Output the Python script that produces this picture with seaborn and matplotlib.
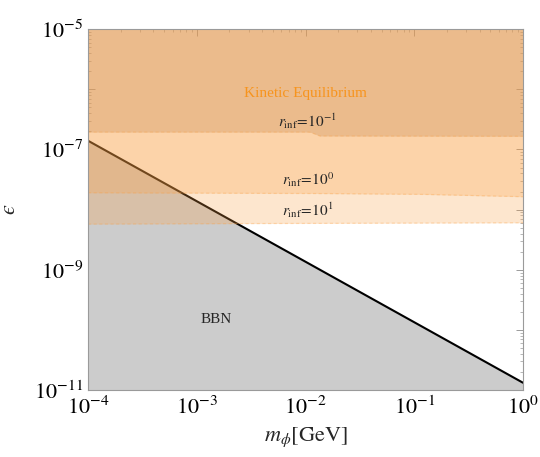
import numpy as np
import pandas as pd
import matplotlib
matplotlib.use("Agg")
import matplotlib.pyplot as plt
import matplotlib.ticker as mticker
import seaborn as sns

# ---- data ----
bbn_mass = [1e-4, 1.0]                 # GeV
bbn_eps = [1.4e-7, 1.32e-11]           # BBN bound line

r01_mass = [1e-4, 1.1e-2, 1.35e-2, 1.0]
r01_eps = [1.95e-7, 1.95e-7, 1.68e-7, 1.66e-7]   # r_inf = 10^-1 boundary

r1_mass = [1e-4, 1e-2, 0.11, 1.0]
r1_eps = [1.91e-8, 1.86e-8, 1.80e-8, 1.64e-8]    # r_inf = 10^0 boundary

r10_mass = [1e-4, 1e-2, 1.0]
r10_eps = [5.75e-9, 5.9e-9, 6.05e-9]             # r_inf = 10^1 boundary

x_ticks = [1e-4, 1e-3, 1e-2, 1e-1, 1e0]
x_labels = [r"$10^{-4}$", r"$10^{-3}$", r"$10^{-2}$", r"$10^{-1}$", r"$10^{0}$"]

sns.set_theme(style="ticks")
plt.rcParams["font.family"] = ["Liberation Serif", "DejaVu Serif"]
plt.rcParams["mathtext.fontset"] = "stix"

fig = plt.figure(figsize=(5.4, 4.57), dpi=100)
ax = fig.add_axes([0.163, 0.1466, 0.8055, 0.7894])
ax.set_xscale("log")
ax.set_yscale("log")
ax.set_xlim(1e-4, 1.0)
ax.set_ylim(1e-11, 1e-5)

top = 1e-5
bottom = 1e-11

# BBN grey region under the line
df_bbn = pd.DataFrame({"m": bbn_mass, "eps": bbn_eps})
ax.fill_between(bbn_mass, bottom, bbn_eps, color="#cccccc", lw=0, zorder=1)
sns.lineplot(data=df_bbn, x="m", y="eps", color="black", lw=1.5, ax=ax, zorder=2)

orange = (251 / 255, 159 / 255, 66 / 255)
xx = np.logspace(-4, 0, 200)
def interp(mass, eps):
    return 10 ** np.interp(np.log10(xx), np.log10(mass), np.log10(eps))

ax.fill_between(xx, interp(r10_mass, r10_eps), top, color=orange, alpha=0.26, lw=0, zorder=3)
ax.fill_between(xx, interp(r1_mass, r1_eps), top, color=orange, alpha=0.26, lw=0, zorder=3)
ax.fill_between(xx, interp(r01_mass, r01_eps), top, color=(210 / 255, 153 / 255, 98 / 255),
                alpha=0.4, lw=0, zorder=3)

# dashed boundaries
for mm, ee in [(r10_mass, r10_eps), (r1_mass, r1_eps), (r01_mass, r01_eps)]:
    ax.plot(xx, interp(mm, ee), ls=(0, (2.5, 2)), lw=0.9, color=orange, alpha=0.3, zorder=4)

# annotations
ax.text(1e-2, 8.4e-7, "Kinetic Equilibrium", color="#f7941d", fontsize=11,
        ha="center", va="center", zorder=5)
ax.text(1.05e-2, 3.0e-7, r"$r_{\rm inf}\!=\!10^{-1}$", fontsize=11, ha="center", va="center", zorder=5)
ax.text(1.05e-2, 3.1e-8, r"$r_{\rm inf}\!=\!10^{0}$", fontsize=11, ha="center", va="center", zorder=5)
ax.text(1.05e-2, 9.6e-9, r"$r_{\rm inf}\!=\!10^{1}$", fontsize=11, ha="center", va="center", zorder=5)
ax.text(1.5e-3, 1.46e-10, "BBN", fontsize=11, ha="center", va="center", zorder=5)

# axes styling
ax.xaxis.set_major_locator(mticker.FixedLocator(x_ticks))
ax.xaxis.set_major_formatter(mticker.FixedFormatter(x_labels))
ax.xaxis.set_minor_locator(mticker.LogLocator(base=10, subs=np.arange(2, 10)))
ax.xaxis.set_minor_formatter(mticker.NullFormatter())
ax.yaxis.set_major_locator(mticker.LogLocator(base=10, numticks=20))
def yfmt(v, pos):
    e = int(round(np.log10(v)))
    return rf"$10^{{{e}}}$" if e % 2 != 0 else ""
ax.yaxis.set_major_formatter(mticker.FuncFormatter(yfmt))
ax.yaxis.set_minor_locator(mticker.LogLocator(base=10, subs=np.arange(2, 10), numticks=20))
ax.yaxis.set_minor_formatter(mticker.NullFormatter())

frame_c = "#9a9a9a"
for s in ax.spines.values():
    s.set_color(frame_c)
    s.set_linewidth(0.8)
    s.set_zorder(6)
ax.tick_params(which="both", direction="in", top=True, right=True, color=frame_c,
               labelsize=16, labelcolor="black")
ax.tick_params(which="major", length=5, width=0.7)
ax.tick_params(which="minor", length=2.5, width=0.5)
ax.tick_params(axis="x", pad=5)

ax.set_xlabel(r"$m_{\phi}[\mathrm{GeV}]$", fontsize=16, labelpad=4)
ax.set_ylabel("$\u03f5$", fontsize=16, labelpad=10)

fig.savefig("out.png", dpi=100)
